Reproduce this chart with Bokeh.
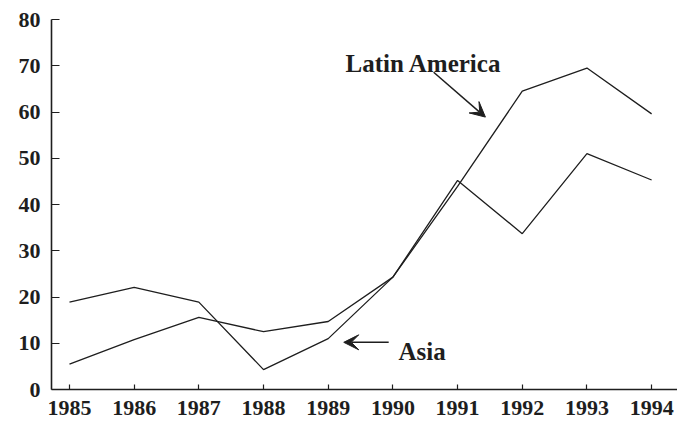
from bokeh.plotting import figure
from bokeh.models import Range1d, FixedTicker, Arrow, VeeHead, Label
from bokeh.embed import file_html
from bokeh.resources import INLINE

years = [1985, 1986, 1987, 1988, 1989, 1990, 1991, 1992, 1993, 1994]
latin_america = [5.5, 10.8, 15.6, 12.5, 14.7, 24.3, 43.9, 64.5, 69.5, 59.6]
asia = [18.9, 22.1, 18.9, 4.3, 11.0, 24.3, 45.2, 33.7, 51.0, 45.3]
y_ticks = [0, 10, 20, 30, 40, 50, 60, 70, 80]

TICK_FONT = "Liberation Serif"
LABEL_FONT = "Liberation Serif"
INK = "#1e1e1e"

p = figure(width=677, height=425, output_backend="svg", toolbar_location=None,
           x_range=Range1d(1984.722, 1994.40), y_range=Range1d(0, 80),
           min_border_left=51, min_border_right=0, min_border_top=19, min_border_bottom=36)
p.outline_line_color = None
p.xgrid.visible = False
p.ygrid.visible = False
p.background_fill_color = "white"
p.border_fill_color = "white"

p.line(years, latin_america, line_color=INK, line_width=1.3)
p.line(years, asia, line_color=INK, line_width=1.3)

for ax in (p.xaxis[0], p.yaxis[0]):
    ax.axis_line_color = INK
    ax.axis_line_width = 1.6
    ax.major_tick_line_color = INK
    ax.major_tick_line_width = 1.2
    ax.minor_tick_line_color = None
    ax.major_tick_out = 0
    ax.major_label_text_font = TICK_FONT
    ax.major_label_text_font_size = "22px"
    ax.major_label_text_font_style = "bold"
    ax.major_label_text_color = INK

p.xaxis.ticker = FixedTicker(ticks=years)
p.xaxis.major_label_overrides = {y: str(y) for y in years}
p.xaxis.major_tick_in = 5
p.xaxis.major_label_standoff = 11
p.yaxis.ticker = FixedTicker(ticks=y_ticks)
p.yaxis.major_tick_in = 8
p.yaxis.major_label_standoff = 11

p.add_layout(Label(x=1989.268, y=70.5, text="Latin America", text_font=LABEL_FONT,
                   text_font_size="25px", text_font_style="bold", text_color=INK,
                   text_baseline="alphabetic"))
p.add_layout(Arrow(x_start=1990.63, y_start=68.6, x_end=1991.43, y_end=58.9,
                   line_color=INK, line_width=1.5,
                   end=VeeHead(size=15, fill_color=INK, line_color=INK)))
p.add_layout(Label(x=1990.087, y=8.2, text="Asia", text_font=LABEL_FONT,
                   text_font_size="25px", text_font_style="bold", text_color=INK,
                   text_baseline="alphabetic"))
p.add_layout(Arrow(x_start=1989.935, y_start=10.2, x_end=1989.24, y_end=10.2,
                   line_color=INK, line_width=1.5,
                   end=VeeHead(size=15, fill_color=INK, line_color=INK)))

open("out.html", "w").write(file_html(p, INLINE))
